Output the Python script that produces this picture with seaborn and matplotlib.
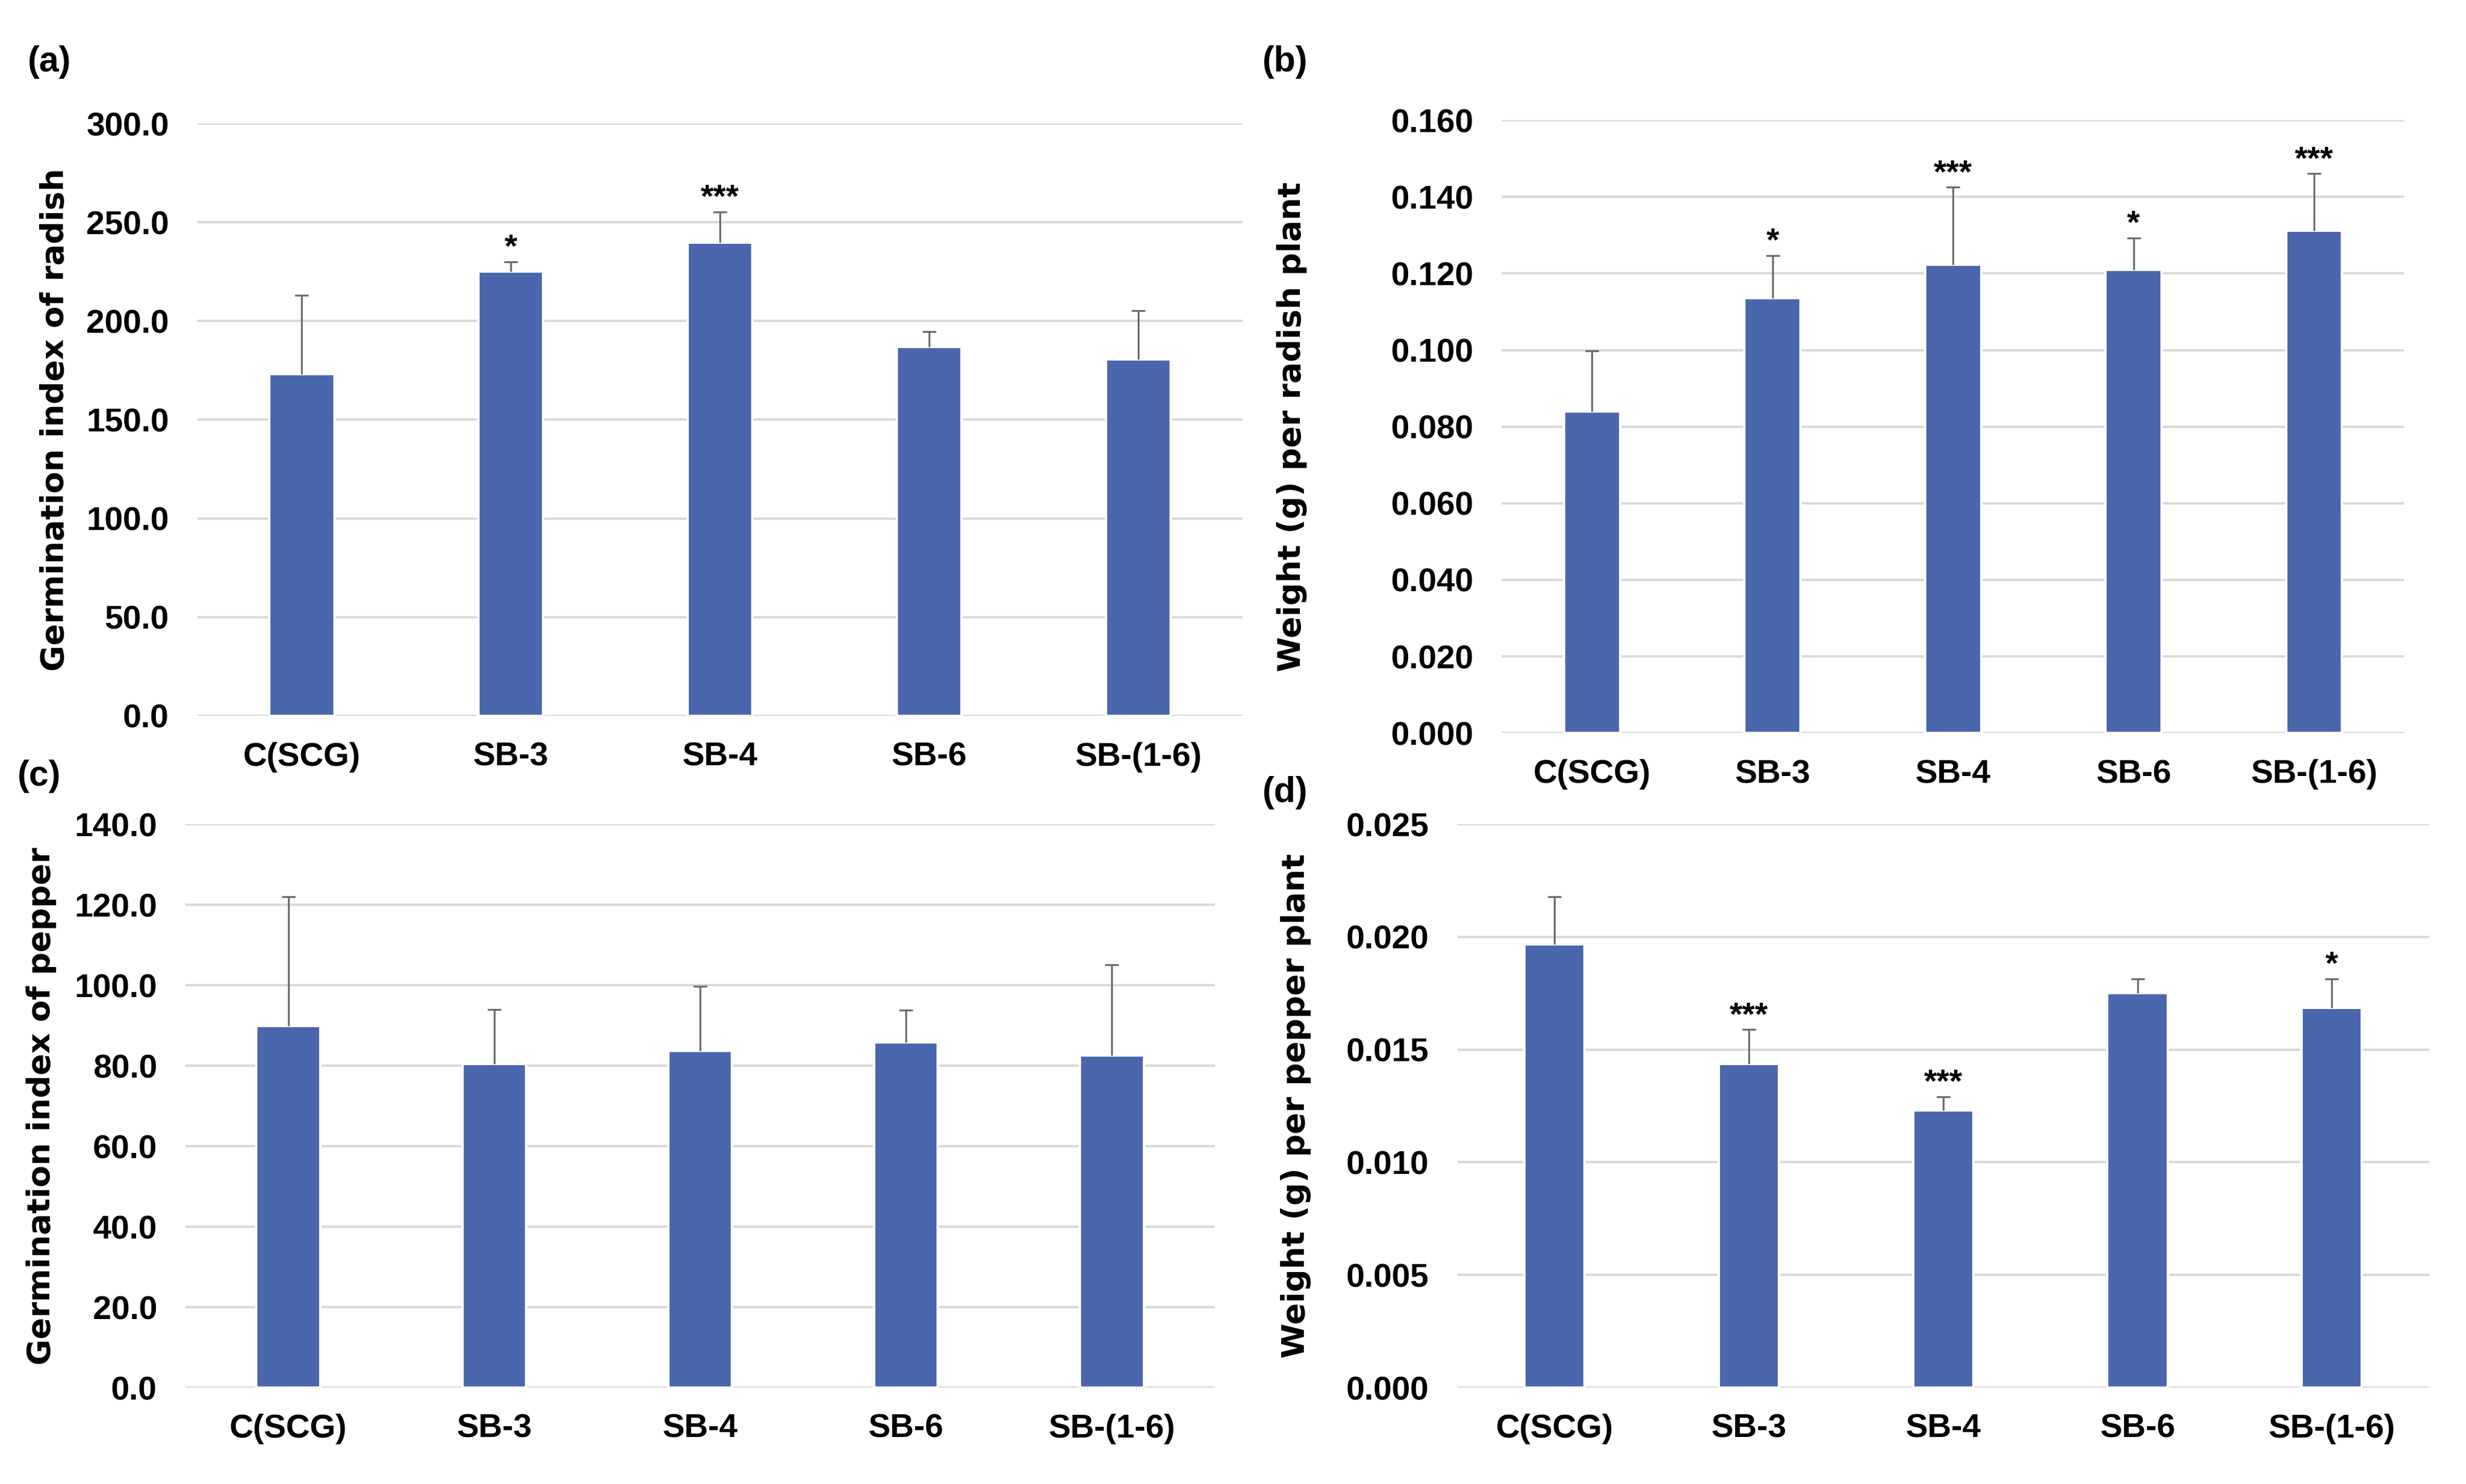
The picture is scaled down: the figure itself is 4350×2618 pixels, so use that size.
import matplotlib
matplotlib.use('Agg')
import matplotlib.pyplot as plt
import matplotlib.transforms as mtransforms
import seaborn as sns
import pandas as pd
import numpy as np

# data
groups = ['C(SCG)', 'SB-3', 'SB-4', 'SB-6', 'SB-(1-6)']

radish_gi = [173.0, 225.2, 239.6, 186.9, 180.7]
radish_gi_err = [40.0, 4.8, 15.7, 7.7, 24.7]
radish_gi_sig = ['', '*', '***', '', '']

radish_wt = [0.0840, 0.1136, 0.1222, 0.1210, 0.1312]
radish_wt_err = [0.0158, 0.0111, 0.0203, 0.0083, 0.0149]
radish_wt_sig = ['', '*', '***', '*', '***']

pepper_gi = [89.9, 80.4, 83.7, 85.8, 82.6]
pepper_gi_err = [32.1, 13.6, 16.0, 8.0, 22.5]
pepper_gi_sig = ['', '', '', '', '']

pepper_wt = [0.01967, 0.01436, 0.01230, 0.01751, 0.01686]
pepper_wt_err = [0.00212, 0.00153, 0.00061, 0.00063, 0.00128]
pepper_wt_sig = ['', '***', '***', '', '*']

BAR = '#4A66AC'
ERR = '#6b6b6b'
GRID = '#d9d9d9'

sns.set_theme(style='white')
plt.rcParams['font.family'] = ['Liberation Sans', 'DejaVu Sans']
plt.rcParams['font.weight'] = 'bold'

fig = plt.figure(figsize=(14.5, 8.7267), dpi=300)

panels = [
    # label, means, errs, stars, ylabel, ymax, step, fmt, rect, ylabel x, label xy
    ('(a)', radish_gi, radish_gi_err, radish_gi_sig, 'Germination index of radish',
     300, 50, '{:.1f}', [0.080, 0.5176, 0.424, 0.3991], 0.0223, (0.0113, 0.958)),
    ('(b)', radish_wt, radish_wt_err, radish_wt_sig, 'Weight (g) per radish plant',
     0.16, 0.02, '{:.3f}', [0.609, 0.506, 0.366, 0.413], 0.524, (0.512, 0.958)),
    ('(c)', pepper_gi, pepper_gi_err, pepper_gi_sig, 'Germination index of pepper',
     140, 20, '{:.1f}', [0.0752, 0.0649, 0.4174, 0.3797], 0.0168, (0.007, 0.477)),
    ('(d)', pepper_wt, pepper_wt_err, pepper_wt_sig, 'Weight (g) per pepper plant',
     0.025, 0.005, '{:.3f}', [0.591, 0.0649, 0.394, 0.3797], 0.5255, (0.512, 0.466)),
]

for tag, means, errs, stars, ylab, ymax, step, fmt, rect, ylx, lxy in panels:
    ax = fig.add_axes(rect)
    df = pd.DataFrame({'group': groups, 'value': means})
    sns.barplot(data=df, x='group', y='value', color=BAR, saturation=1,
                width=0.31, errorbar=None, ax=ax, zorder=2)

    x = np.arange(len(groups))
    _, caps, _ = ax.errorbar(x, means, yerr=[np.zeros(len(means)), errs], fmt='none',
                             ecolor=ERR, elinewidth=0.8, capsize=2.8, capthick=0.8,
                             zorder=3)
    for c in caps:
        if np.allclose(c.get_ydata(), means):
            c.set_visible(False)

    for xi, m, e, s in zip(x, means, errs, stars):
        if s:
            ax.annotate(s, (xi, m + e), xytext=(0, -1), textcoords='offset points',
                        ha='center', va='bottom', fontsize=14, fontweight='bold',
                        color='black')

    ticks = np.arange(0, ymax + step / 2, step)
    ax.set_ylim(0, ymax)
    ax.set_xlim(-0.5, len(groups) - 0.5)
    ax.set_yticks(ticks)
    ax.set_yticklabels([fmt.format(t) for t in ticks])
    ax.yaxis.grid(True, color=GRID, linewidth=1.0)
    ax.set_axisbelow(True)
    for sp in ax.spines.values():
        sp.set_visible(False)
    ax.tick_params(axis='y', length=0, pad=12, labelsize=14, labelcolor='black')
    ax.tick_params(axis='x', length=0, pad=11, labelsize=14, labelcolor='black')
    for lbl in ax.get_xticklabels() + ax.get_yticklabels():
        lbl.set_fontweight('bold')

    ax.set_xlabel('')
    ax.set_ylabel(ylab, fontsize=13.5, fontweight='bold', family=['DejaVu Sans'],
                  va='center', color='black')
    ax.yaxis.set_label_coords(ylx, 0.5,
                              transform=mtransforms.blended_transform_factory(
                                  fig.transFigure, ax.transAxes))

    fig.text(lxy[0], lxy[1], tag, ha='left', va='center', fontsize=15,
             fontweight='bold', color='black')

fig.savefig('out.png', dpi=300, facecolor='white')
